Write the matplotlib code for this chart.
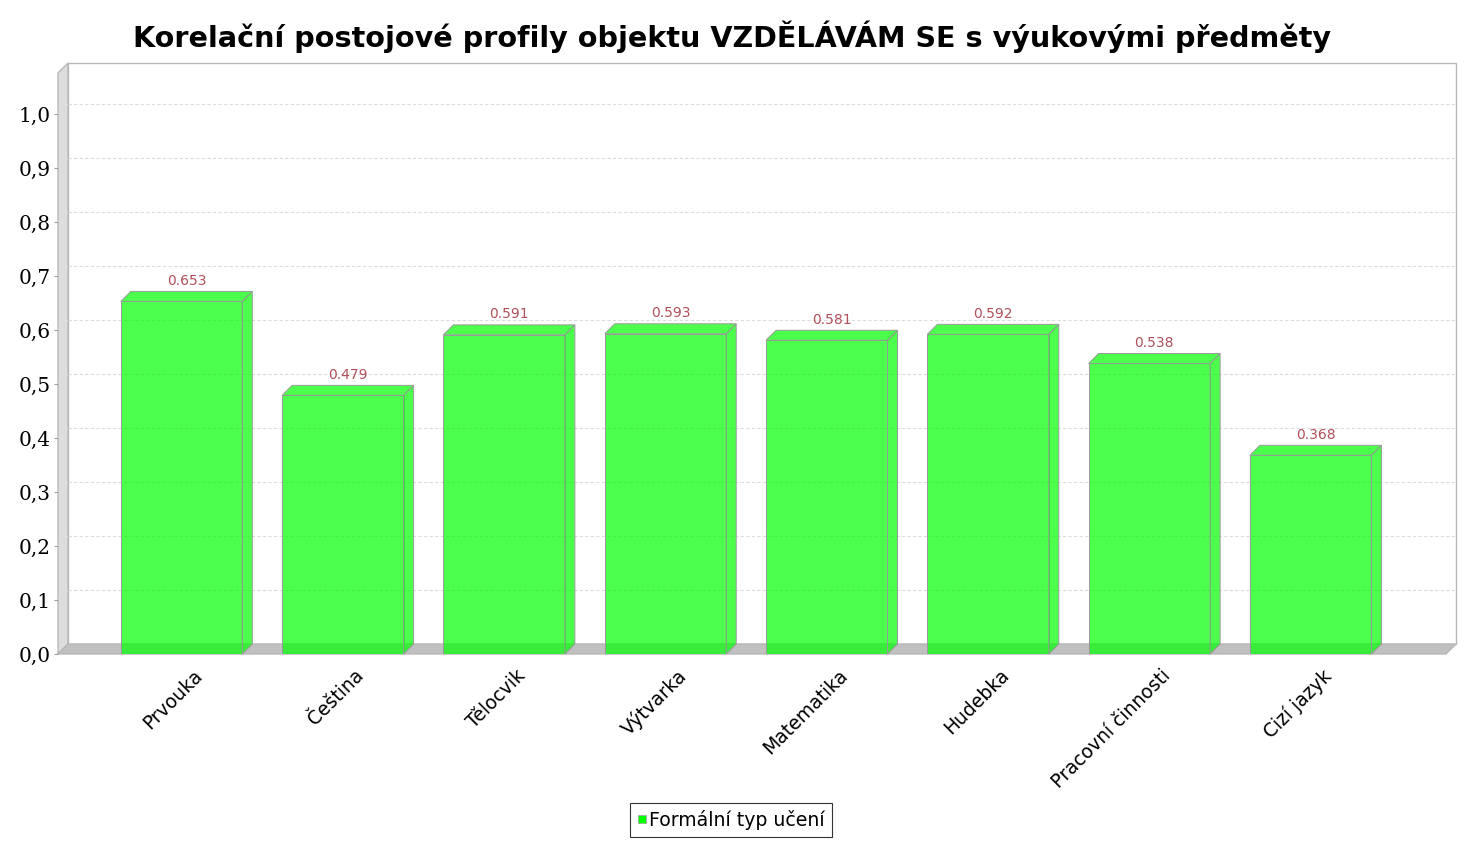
import matplotlib
matplotlib.use("Agg")
import matplotlib.pyplot as plt
from matplotlib.patches import Polygon, Rectangle
from matplotlib.lines import Line2D

categories = ["Prvouka", "Čeština", "Tělocvik", "Výtvarka", "Matematika",
              "Hudebka", "Pracovní činnosti", "Cizí jazyk"]
values = [0.653, 0.479, 0.591, 0.593, 0.581, 0.592, 0.538, 0.368]
value_labels = ["0.653", "0.479", "0.591", "0.593", "0.581", "0.592", "0.538", "0.368"]
yticks = [0.0, 0.1, 0.2, 0.3, 0.4, 0.5, 0.6, 0.7, 0.8, 0.9, 1.0]
ytick_labels = ["0,0", "0,1", "0,2", "0,3", "0,4", "0,5", "0,6", "0,7", "0,8", "0,9", "1,0"]
series_name = "Formální typ učení"
title = "Korelační postojové profily objektu VZDĚLÁVÁM SE s výukovými předměty"

W, H, DPI = 1464, 850, 100
fig = plt.figure(figsize=(W / DPI, H / DPI), dpi=DPI)

# front plane geometry in pixels
left_px, right_px, bottom_px, top_px = 58, 1446, 654, 73
ax = fig.add_axes([left_px / W, (H - bottom_px) / H,
                   (right_px - left_px) / W, (bottom_px - top_px) / H])
xmin, xmax = -0.766, 7.839
ymin, ymax = 0.0, 1.076
ax.set_xlim(xmin, xmax)
ax.set_ylim(ymin, ymax)
for s in ax.spines.values():
    s.set_visible(False)
ax.set_xticks([])
ax.patch.set_visible(False)

depth_px = 10
dx = depth_px * (xmax - xmin) / (right_px - left_px)
dy = depth_px * (ymax - ymin) / (bottom_px - top_px)

wall_edge = "#b8b8b8"
# back wall
ax.add_patch(Rectangle((xmin + dx, dy), xmax - xmin, ymax - ymin, facecolor="white",
                       edgecolor=wall_edge, lw=1, clip_on=False, zorder=0))
# left wall
ax.add_patch(Polygon([(xmin, 0), (xmin + dx, dy), (xmin + dx, ymax + dy), (xmin, ymax)],
                     closed=True, facecolor="#dddddd", edgecolor=wall_edge, lw=1,
                     clip_on=False, zorder=1))
# floor
ax.add_patch(Polygon([(xmin, 0), (xmax, 0), (xmax + dx, dy), (xmin + dx, dy)],
                     closed=True, facecolor="#c0c0c0", edgecolor=wall_edge, lw=1,
                     clip_on=False, zorder=1))

# gridlines on back wall
for v in yticks[1:]:
    ax.plot([xmin + dx, xmax + dx], [v + dy, v + dy], color="#dcdcdc", lw=0.8,
            ls=(0, (3, 2)), zorder=0.5, clip_on=False)
    ax.plot([xmin, xmin + dx], [v, v + dy], color="#dcdcdc", lw=0.8,
            ls=(0, (3, 2)), zorder=1.5, clip_on=False)

ax.set_yticks(yticks)
ax.set_yticklabels(ytick_labels, fontsize=14.5, family="DejaVu Serif")
ax.tick_params(axis="y", length=3, color="#a0a0a0", pad=2)

# bars
bw = 0.753
green = (0.0, 1.0, 0.0, 0.7)
edge = "#9a9a9a"
for i, v in enumerate(values):
    x0, x1 = i - bw / 2, i + bw / 2
    front = Polygon([(x0, 0), (x1, 0), (x1, v), (x0, v)], closed=True,
                    facecolor=green, edgecolor=edge, lw=0.7, zorder=3)
    side = Polygon([(x1, 0), (x1 + dx, dy), (x1 + dx, v + dy), (x1, v)], closed=True,
                   facecolor=green, edgecolor=edge, lw=0.7, zorder=3, clip_on=False)
    top = Polygon([(x0, v), (x1, v), (x1 + dx, v + dy), (x0 + dx, v + dy)], closed=True,
                  facecolor=green, edgecolor=edge, lw=0.7, zorder=3, clip_on=False)
    for p in (front, side, top):
        ax.add_patch(p)
    ax.text(i + dx / 2, v + dy + 0.007, value_labels[i], ha="center", va="bottom",
            fontsize=10, color="#b0505a", zorder=4)

# category labels
for i, c in enumerate(categories):
    ax.text(i + 0.07, -0.022, c, rotation=45, rotation_mode="anchor",
            ha="right", va="top", fontsize=13.5, family="DejaVu Sans", clip_on=False)

fig.text(0.5, 1 - 37 / H, title, ha="center", va="center", fontsize=20.6,
         fontweight="bold", family="DejaVu Sans")

handle = Line2D([], [], marker="s", color=(0, 1, 0), markersize=6, lw=0,
                markeredgecolor="#a0a0a0", markeredgewidth=0.5)
leg = fig.legend([handle], [series_name], loc="center", bbox_to_anchor=(731 / W, 1 - 820 / H),
                 fontsize=13.6, frameon=True, fancybox=False, handlelength=0.5,
                 handletextpad=0.15, borderpad=0.35, borderaxespad=0)
leg.get_frame().set_edgecolor("black")
leg.get_frame().set_linewidth(0.8)

fig.savefig("out.png", dpi=DPI)
